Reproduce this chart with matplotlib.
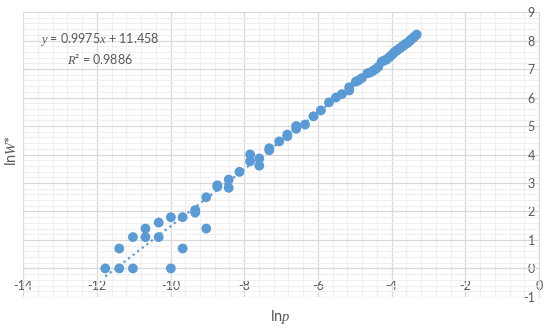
import numpy as np
import matplotlib
matplotlib.use("Agg")
import matplotlib.pyplot as plt
from matplotlib.ticker import MultipleLocator

# Datos: ln p vs ln W*
ln_p = [-11.77, -11.39, -11.02, -9.99, -11.39, -9.67, -11.02, -10.68, -10.32,
        -10.68, -9.03, -10.32, -9.99, -9.67, -9.33, -9.33, -9.03, -8.73, -8.73,
        -8.42, -8.42, -8.13, -7.84, -7.84, -7.59, -7.59, -7.32, -7.32, -7.05,
        -6.83, -6.83, -6.59, -6.59, -6.35, -6.12, -5.92, -5.70, -5.51, -5.35,
        -5.15, -5.15, -4.97, -4.90, -4.81, -4.66, -4.58, -4.50, -4.43, -4.36,
        -4.27, -4.20, -4.13, -4.06, -4.00, -3.95, -3.91, -3.86, -3.82, -3.77,
        -3.73, -3.68, -3.64, -3.59, -3.55, -3.50, -3.46, -3.41, -3.37, -3.32]
ln_w = [0.00, 0.00, 0.00, 0.00, 0.70, 0.70, 1.10, 1.10, 1.10,
        1.40, 1.40, 1.61, 1.80, 1.80, 1.96, 2.05, 2.50, 2.87, 2.92,
        2.83, 3.12, 3.39, 4.00, 3.76, 3.86, 3.61, 4.15, 4.22, 4.46,
        4.64, 4.70, 4.90, 5.00, 5.05, 5.34, 5.55, 5.83, 6.00, 6.12,
        6.25, 6.36, 6.56, 6.60, 6.68, 6.85, 6.88, 6.94, 7.00, 7.08,
        7.26, 7.30, 7.34, 7.42, 7.49, 7.55, 7.61, 7.65, 7.69, 7.73,
        7.78, 7.82, 7.87, 7.90, 7.94, 8.00, 8.05, 8.10, 8.15, 8.21]

# Línea de tendencia (según la etiqueta del gráfico)
slope = 0.9975
intercept = 11.458
r2 = 0.9886

blue = "#5b9bd5"
grey_txt = "#595959"

plt.rcParams["font.family"] = ["Lato", "DejaVu Sans"]
plt.rcParams["axes.unicode_minus"] = False
plt.rcParams["mathtext.fontset"] = "custom"
plt.rcParams["mathtext.it"] = "Liberation Serif:italic"
plt.rcParams["mathtext.rm"] = "Lato"

fig = plt.figure(figsize=(5.5, 3.27), dpi=100)
ax = fig.add_axes([0.042, 0.092, 0.938, 0.871])

ax.set_xlim(-14, 0)
ax.set_ylim(-1, 9)

ax.xaxis.set_major_locator(MultipleLocator(2))
ax.xaxis.set_minor_locator(MultipleLocator(0.4))
ax.yaxis.set_major_locator(MultipleLocator(1))
ax.yaxis.set_minor_locator(MultipleLocator(0.2))
ax.grid(which="major", color="#d9d9d9", linewidth=0.9)
ax.grid(which="minor", color="#efefef", linewidth=0.8)
ax.set_axisbelow(True)

# Ejes cruzando en (0, 0) como en Excel
for s in ("top", "right"):
    ax.spines[s].set_visible(False)
ax.spines["left"].set_position(("data", 0))
ax.spines["bottom"].set_position(("data", 0))
ax.spines["left"].set_color("#d9d9d9")
ax.spines["bottom"].set_color("#d9d9d9")
ax.tick_params(which="both", length=0, labelsize=9, colors=grey_txt)
ax.tick_params(axis="x", pad=8)
ax.tick_params(axis="y", pad=3)

ax.set_xticks(np.arange(-14, 1, 2))
ax.set_yticks(np.arange(-1, 10, 1))

xs = np.array([min(ln_p), max(ln_p)])
ax.plot(xs, slope * xs + intercept, linestyle=(0, (1, 1.6)), color=blue,
        linewidth=1.6, zorder=2)
ax.scatter(ln_p, ln_w, s=50, color=blue, edgecolors="none", zorder=3)

ax.text(-11.91, 8.05, r"$y$ = 0.9975$x$ + 11.458", fontsize=9, color=grey_txt,
        ha="center", va="center")
ax.text(-11.91, 7.35, r"$R$² = 0.9886", fontsize=9, color=grey_txt,
        ha="center", va="center")

fig.text(0.509, 0.03, r"ln$p$", fontsize=10.5, color=grey_txt, ha="center", va="center")
fig.text(0.02, 0.54, r"ln$W$*", fontsize=10.5, color=grey_txt, ha="center",
         va="center", rotation=90)

fig.savefig("out.png", dpi=100)
